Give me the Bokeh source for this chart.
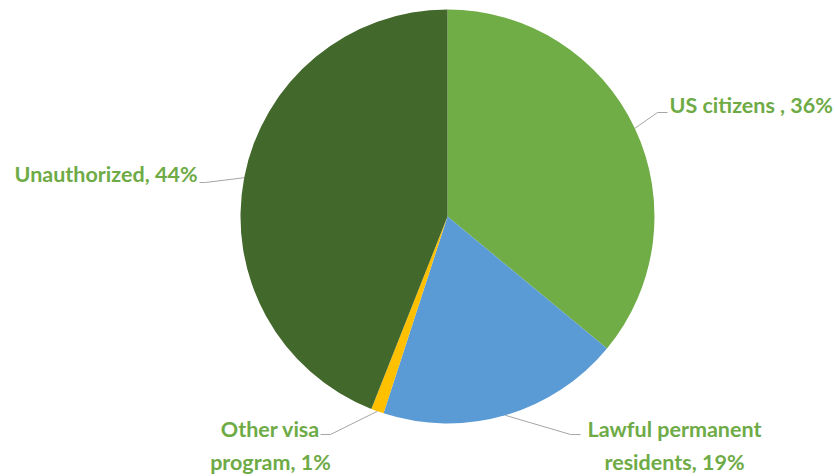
import math
from bokeh.plotting import figure
from bokeh.models import Range1d, ColumnDataSource
from bokeh.core.properties import value
from bokeh.embed import file_html
from bokeh.resources import INLINE

# ---- data ----
categories = ["US citizens", "Lawful permanent residents", "Other visa program", "Unauthorized"]
shares = [36, 19, 1, 44]
colors = ["#70AD47", "#5B9BD5", "#FFC000", "#43682B"]
label_texts = ["US citizens , 36%", "Lawful permanent\nresidents, 19%", "Other visa\nprogram, 1%", "Unauthorized, 44%"]

W, H = 835, 476
CX, CY, R = 447, 216, 207  # pixel layout


def Y(py):
    return H - py


p = figure(width=W, height=H, output_backend="svg", toolbar_location=None,
           x_range=Range1d(0, W), y_range=Range1d(0, H), min_border=0)
p.axis.visible = False
p.grid.visible = False
p.outline_line_color = None
p.background_fill_color = "white"

total = sum(shares)
starts, ends, mids = [], [], []
cum = 0.0
for s in shares:
    a0 = cum / total
    cum += s
    a1 = cum / total
    starts.append(math.pi / 2 - a0 * 2 * math.pi)
    ends.append(math.pi / 2 - a1 * 2 * math.pi)
    mids.append((a0 + a1) / 2 * 2 * math.pi)

src = ColumnDataSource(dict(x=[CX] * len(shares), y=[Y(CY)] * len(shares),
                            start=starts, end=ends, color=colors, cat=categories))
p.wedge(x="x", y="y", radius=R, start_angle="start", end_angle="end",
        direction="clock", fill_color="color", line_color=None, source=src)

# leader lines: start at slice edge midpoint
edge = [(CX + R * math.sin(m), CY - R * math.cos(m)) for m in mids]
bends = [[(657, 112), (667, 112)],
         [(570, 434), (580, 434)],
         [(330, 434), (320, 434)],
         [(205, 182), (199, 182)]]
for (ex, ey), pts in zip(edge, bends):
    xs = [ex] + [q[0] for q in pts]
    ys = [Y(ey)] + [Y(q[1]) for q in pts]
    p.line(xs, ys, line_color="#A6A6A6", line_width=1)

lab_x = [669, 674, 270, 197]
lab_y = [104, 445, 445, 173]
lab_align = ["left", "center", "center", "right"]
p.text(x=lab_x, y=[Y(v) for v in lab_y], text=label_texts,
       text_font=value("Lato"), text_font_style="bold", text_font_size="21.5px",
       text_color="#6EAB46", text_align=lab_align, text_baseline="middle",
       text_line_height=1.25)

open("out.html", "w").write(file_html(p, INLINE))
